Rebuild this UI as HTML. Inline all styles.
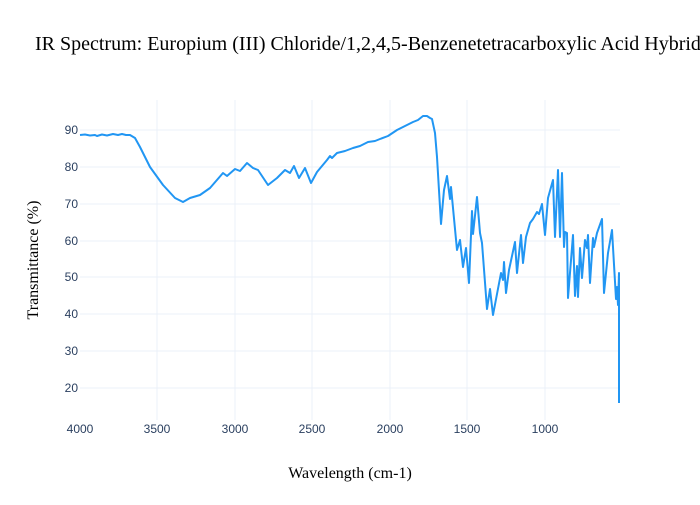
<!DOCTYPE html>
<html><head><meta charset="utf-8"><style>
body{margin:0;background:#fff;}
text{font-family:"Liberation Sans",sans-serif;}
</style></head><body>
<svg width="700" height="500" xmlns="http://www.w3.org/2000/svg">
<rect width="700" height="500" fill="#fff"/>
<g stroke="#ebf0f8" stroke-width="1">
<line x1="157" y1="100" x2="157" y2="420"/><line x1="235" y1="100" x2="235" y2="420"/>
<line x1="312" y1="100" x2="312" y2="420"/><line x1="390" y1="100" x2="390" y2="420"/>
<line x1="467" y1="100" x2="467" y2="420"/><line x1="545" y1="100" x2="545" y2="420"/>
<line x1="80" y1="130" x2="620" y2="130"/><line x1="80" y1="167" x2="620" y2="167"/>
<line x1="80" y1="204" x2="620" y2="204"/><line x1="80" y1="241" x2="620" y2="241"/>
<line x1="80" y1="277" x2="620" y2="277"/><line x1="80" y1="314" x2="620" y2="314"/>
<line x1="80" y1="351" x2="620" y2="351"/><line x1="80" y1="388" x2="620" y2="388"/>
</g>
<g font-size="12" fill="#2a3f5f" text-anchor="end">
<text x="78" y="134">90</text><text x="78" y="171">80</text><text x="78" y="208">70</text>
<text x="78" y="245">60</text><text x="78" y="281">50</text><text x="78" y="318">40</text>
<text x="78" y="355">30</text><text x="78" y="392">20</text>
</g>
<g font-size="12" fill="#2a3f5f" text-anchor="middle">
<text x="80" y="433">4000</text><text x="157" y="433">3500</text><text x="235" y="433">3000</text>
<text x="312" y="433">2500</text><text x="390" y="433">2000</text><text x="467" y="433">1500</text>
<text x="545" y="433">1000</text>
</g>
<polyline fill="none" stroke="#2196f3" stroke-width="2" stroke-linejoin="round" points="80,135 85,134.5 90,135.5 95,135 97,136 102,134.5 107,135.5 113,134 118,135 122,134 126,135 130,135 135,138 140,147 150,167 163,185 175,198 183,202 190,198 200,195 210,188 223,173 227,176 235,169 240,171 247,163 253,168 258,170 268,185 277,178 285,170 290,173 294,166 299,178 305,168 311,183 317,172 327,160 330,156 332,158 337,153 345,151 353,148 360,146 368,142 375,141 380,139 388,136 397,130 405,126 413,122 418,120 423,116 427,116 430,118 432,119 435,133 437,157 441,224 444,190 447,176 450,199 451,187 457,250 460,240 463,267 466,248 469,283 472,211 473,234 477,197 480,233 482,243 487,309 490,289 493,315 501,273 503,280 504,262 506,293 509,270 515,242 517,273 521,235 523,263 526,237 530,223 533,219 537,212 539,214 542,204 545,235 548,198 553,180 555,237 558,170 560,237 562,173 564,247 565,232 567,233 568,298 573,235 575,296 577,266 578,297 580,248 582,278 585,240 587,248 588,235 590,283 593,238 594,247 597,233 602,219 604,293 608,253 612,230 616,299 617,287 618,305 619,273 619,403"/>
<text x="35" y="50" font-size="20" fill="#000" style="font-family:'Liberation Serif',serif">IR Spectrum: Europium (III) Chloride/1,2,4,5-Benzenetetracarboxylic Acid Hybrid</text>
<text x="350" y="478" font-size="16" text-anchor="middle" style="font-family:'Liberation Serif',serif">Wavelength (cm-1)</text>
<text transform="translate(38,260) rotate(-90)" font-size="16" text-anchor="middle" style="font-family:'Liberation Serif',serif">Transmittance (%)</text>
</svg>
</body></html>
